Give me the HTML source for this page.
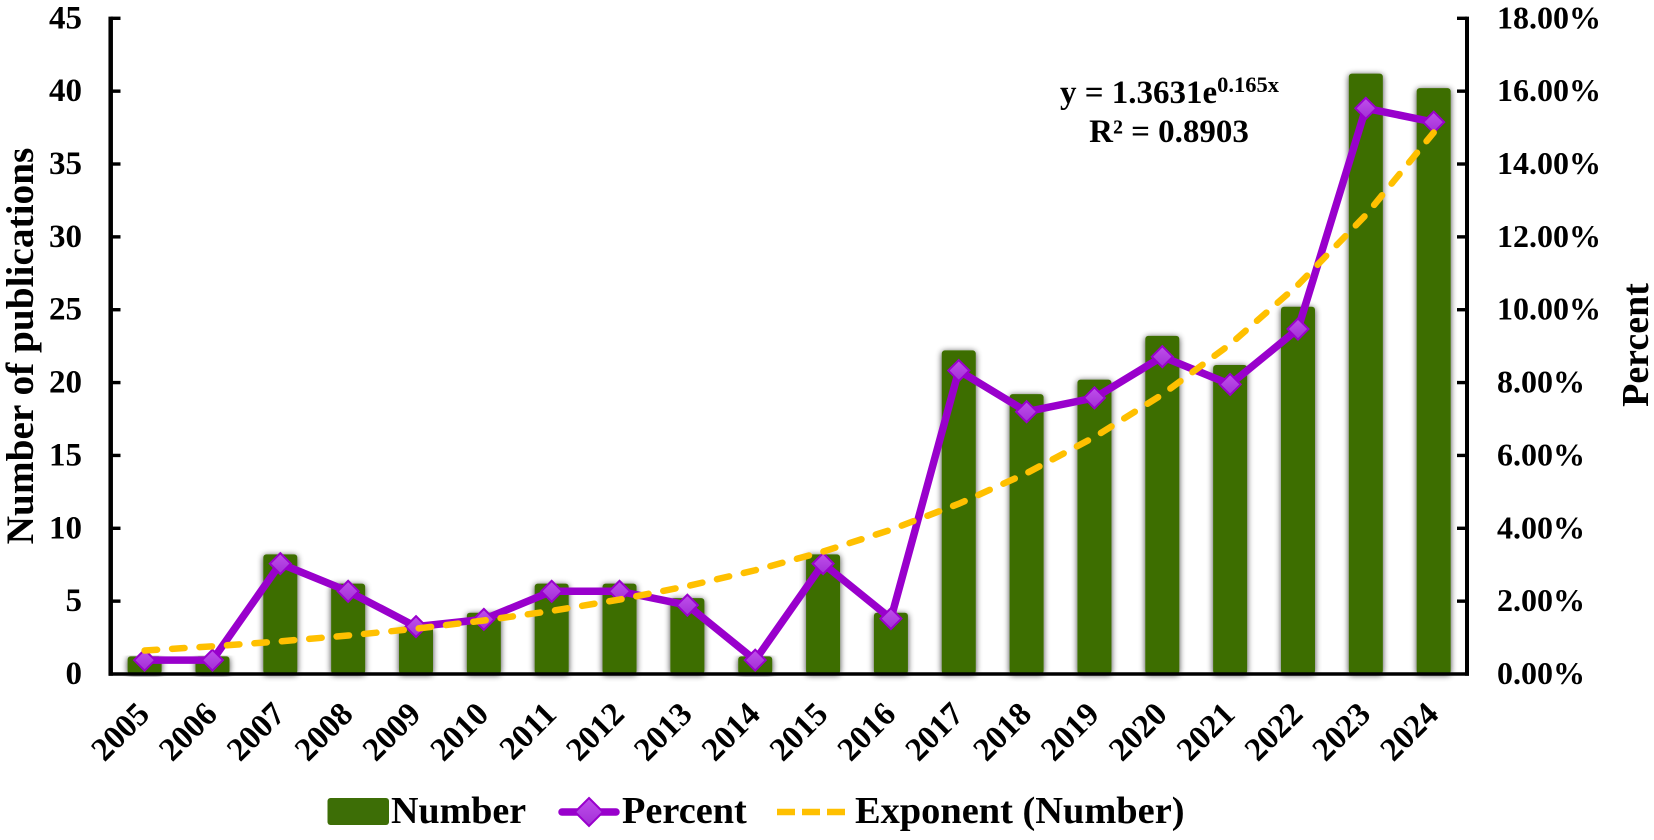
<!DOCTYPE html>
<html lang="en">
<head>
<meta charset="utf-8">
<title>Publications per year</title>
<style>
html,body{margin:0;padding:0;background:#fff;}
svg{display:block;}
text{font-family:"Liberation Serif",serif;font-weight:bold;fill:#000;}
</style>
</head>
<body>
<svg id="chart" width="1654" height="840" viewBox="0 0 1654 840" xmlns="http://www.w3.org/2000/svg">
  <defs>
    <filter id="soft" x="-40%" y="-10%" width="180%" height="125%">
      <feGaussianBlur in="SourceAlpha" stdDeviation="3.2"/>
      <feOffset dx="0" dy="1"/>
      <feComponentTransfer><feFuncA type="linear" slope="0.75"/></feComponentTransfer>
      <feMerge><feMergeNode/><feMergeNode in="SourceGraphic"/></feMerge>
    </filter>
    <linearGradient id="mk" x1="0" y1="0" x2="0" y2="1">
      <stop offset="0" stop-color="#C050EC"/>
      <stop offset="1" stop-color="#A22FD6"/>
    </linearGradient>
  </defs>
  <rect x="0" y="0" width="1654" height="840" fill="#fff"/>
  <g id="bars"></g>
  <g id="axes"></g>
  <g id="ticks"></g>
  <polyline id="percentLine" fill="none" stroke="#9900CC" stroke-width="7.5" stroke-linejoin="round"/>
  <g id="markers"></g>
  <polyline id="trendLine" fill="none" stroke="#FFC000" stroke-width="6.5" stroke-linecap="round" stroke-dasharray="12.5 15"/>
  <text transform="translate(33 346) rotate(-90)" text-anchor="middle" font-size="39.3">Number of publications</text>
  <text transform="translate(1648 345) rotate(-90)" text-anchor="middle" font-size="38">Percent</text>
  <text x="1169.5" y="103" text-anchor="middle" font-size="33">y = 1.3631e<tspan font-size="22.5" dy="-11">0.165x</tspan></text>
  <text x="1169" y="142" text-anchor="middle" font-size="33">R² = 0.8903</text>
  <g>
    <rect x="327.5" y="798" width="61.5" height="27" rx="3" fill="#3D6E06"/>
    <text x="391" y="823" font-size="38">Number</text>
    <line x1="562" y1="812" x2="616" y2="812" stroke="#9900CC" stroke-width="7.5" stroke-linecap="round"/>
    <path d="M589 798 L603 812 L589 826 L575 812 Z" fill="url(#mk)" stroke="#9900CC" stroke-width="2"/>
    <text x="622" y="823" font-size="38.3">Percent</text>
    <line x1="777" y1="812" x2="845" y2="812" stroke="#FFC000" stroke-width="6.5" stroke-dasharray="18 7"/>
    <text x="855" y="823" font-size="38.4">Exponent (Number)</text>
  </g>
</svg>
<script>
const years = ["2005","2006","2007","2008","2009","2010","2011","2012","2013","2014","2015","2016","2017","2018","2019","2020","2021","2022","2023","2024"];
const numberValues = [1,1,8,6,3,4,6,6,5,1,8,4,22,19,20,23,21,25,41,40];
const percentValues = [0.38,0.38,3.03,2.27,1.3,1.5,2.27,2.27,1.89,0.38,3.03,1.52,8.33,7.2,7.58,8.71,7.95,9.47,15.53,15.15];
const trendValues = [1.61,1.9,2.24,2.64,3.11,3.67,4.33,5.11,6.03,7.12,8.4,9.9,11.68,13.78,16.26,19.18,22.63,26.7,31.5,37.16];
const leftTicks = [0,5,10,15,20,25,30,35,40,45];
const rightTicks = [0,2,4,6,8,10,12,14,16,18];
const rightTickLabels = ["0.00%","2.00%","4.00%","6.00%","8.00%","10.00%","12.00%","14.00%","16.00%","18.00%"];

const NS = "http://www.w3.org/2000/svg";
const plotLeft = 110.7, plotRight = 1467.6, plotBottom = 674, plotTop = 18.3;
const leftMax = 45, rightMax = 18;
function xPos(i){ return plotLeft + (i + 0.5) * (plotRight - plotLeft) / years.length; }
function yLeft(v){ return plotBottom - v / leftMax * (plotBottom - plotTop); }
function yRight(v){ return plotBottom - v / rightMax * (plotBottom - plotTop); }
function make(tag, attrs, parent){
  const el = document.createElementNS(NS, tag);
  for (const k in attrs) el.setAttribute(k, attrs[k]);
  parent.appendChild(el);
  return el;
}

const barsG = document.getElementById("bars");
numberValues.forEach(function(v, i){
  const top = yLeft(v) - 3;
  const bar = make("rect", {x: xPos(i) - 17, y: top, width: 34, height: plotBottom - top, rx: 3, fill: "#3D6E06", filter: "url(#soft)"}, barsG);
  
  
});

const axesG = document.getElementById("axes");
const axisLeft = make("line", {x1: plotLeft, y1: plotTop - 1.7, x2: plotLeft, y2: plotBottom + 1.8, stroke: "#000", "stroke-width": 4.5}, axesG);


const axisRight = make("line", {x1: 1467, y1: plotTop - 1.7, x2: 1467, y2: plotBottom + 1.8, stroke: "#000", "stroke-width": 4}, axesG);


const axisBottom = make("line", {x1: plotLeft - 2, y1: plotBottom, x2: 1469, y2: plotBottom, stroke: "#000", "stroke-width": 3.6}, axesG);



const ticksG = document.getElementById("ticks");
leftTicks.forEach(function(v){
  const y = yLeft(v);
  if (v > 0) {
    const mark = make("line", {x1: plotLeft, y1: y, x2: 120.5, y2: y, stroke: "#000", "stroke-width": 3.4}, ticksG);
    
    
  }
  const label = make("text", {x: 82, y: y + 10, "text-anchor": "end", "font-size": 33}, ticksG);
  label.textContent = String(v);
  
  
});
rightTicks.forEach(function(v, i){
  const y = yRight(v);
  if (v > 0) {
    const mark = make("line", {x1: 1457, y1: y, x2: 1467, y2: y, stroke: "#000", "stroke-width": 3.4}, ticksG);
    
    
  }
  const label = make("text", {x: 1497, y: y + 10, "font-size": 32}, ticksG);
  label.textContent = rightTickLabels[i];
  
  
});
years.forEach(function(yr, i){
  const lx = xPos(i) + 6.5, ly = 716;
  const label = make("text", {transform: "translate(" + lx + " " + ly + ") rotate(-45)", "text-anchor": "end", "font-size": 33}, ticksG);
  label.textContent = yr;
  
  
});

document.getElementById("percentLine").setAttribute("points", percentValues.map(function(v, i){ return xPos(i) + "," + yRight(v); }).join(" "));
document.getElementById("trendLine").setAttribute("points", trendValues.map(function(v, i){ return xPos(i) + "," + yLeft(v); }).join(" "));

const markersG = document.getElementById("markers");
percentValues.forEach(function(v, i){
  const cx = xPos(i), cy = yRight(v), r = 10.5;
  const marker = make("path", {d: "M" + cx + " " + (cy - r) + " L" + (cx + r) + " " + cy + " L" + cx + " " + (cy + r) + " L" + (cx - r) + " " + cy + " Z", fill: "url(#mk)", stroke: "#9900CC", "stroke-width": 2}, markersG);
  
  
});
</script>
</body>
</html>
